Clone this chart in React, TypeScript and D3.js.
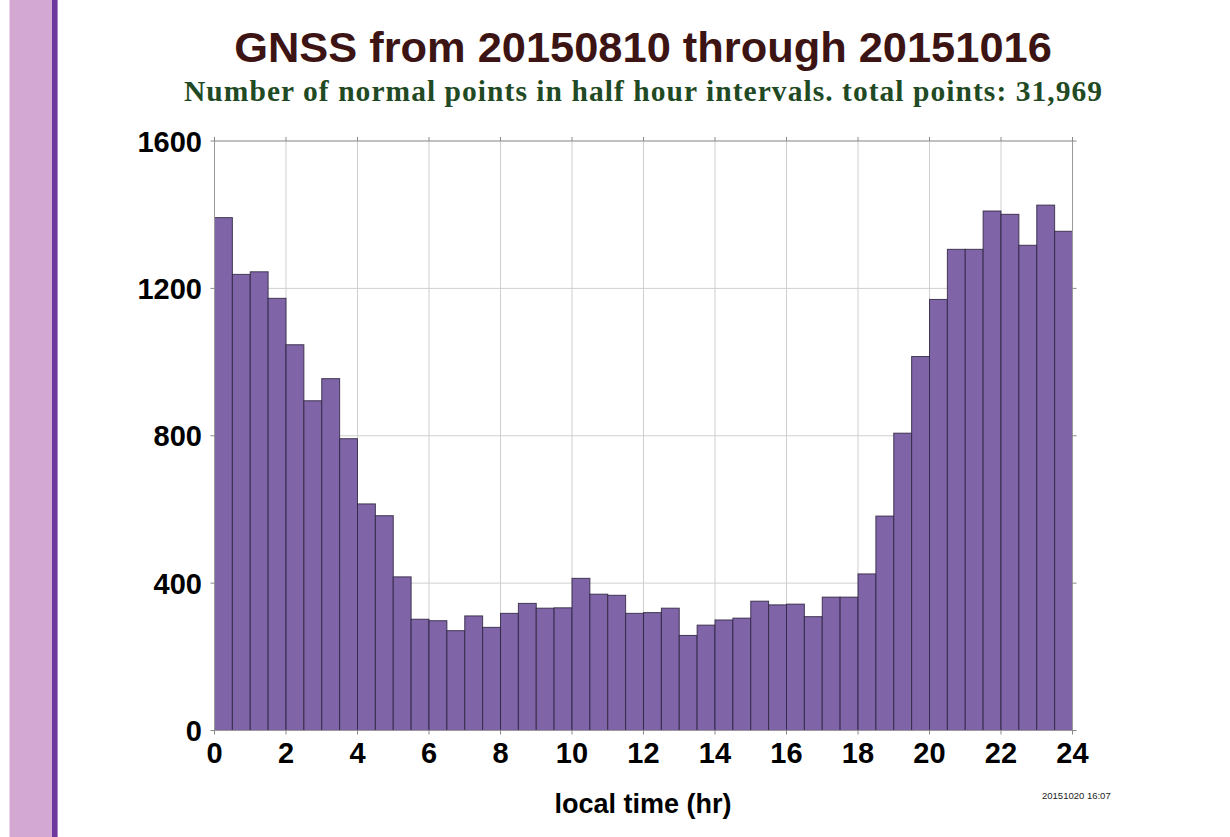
import React from "react";
import * as d3 from "d3";

const binStarts: number[] = d3.range(0, 24, 0.5);
const counts: number[] = [
  1392, 1238, 1245, 1173, 1047, 895, 955, 792, 615, 583,
  417, 302, 298, 271, 311, 280, 318, 345, 332, 333,
  413, 370, 367, 318, 320, 332, 258, 286, 300, 305,
  351, 341, 343, 309, 362, 362, 425, 582, 807, 1015,
  1170, 1306, 1306, 1410, 1401, 1317, 1426, 1355,
];
const xTicks: number[] = [0, 2, 4, 6, 8, 10, 12, 14, 16, 18, 20, 22, 24];
const yTicks: number[] = [0, 400, 800, 1200, 1600];
const titleText = "GNSS from 20150810 through 20151016";
const subtitleText = "Number of normal points in half hour intervals. total points: 31,969";
const xLabel = "local time (hr)";
const stamp = "20151020 16:07";

const W = 1230;
const H = 837;
const left = 214.5;
const right = 1072.5;
const top = 141;
const bottom = 730.5;

export default function App() {
  const x = d3.scaleLinear().domain([0, 24]).range([left, right]);
  const y = d3.scaleLinear().domain([0, 1600]).range([bottom, top]);
  const sans = "'Liberation Sans', Arial, Helvetica, sans-serif";
  const serif = "'Liberation Serif', 'Times New Roman', serif";
  return (
    <svg
      width={W}
      height={H}
      style={{ position: "absolute", left: 0, top: 0, background: "#fff" }}
    >
      <rect x={0} y={0} width={W} height={H} fill="#fff" />
      <rect x={9.5} y={0} width={42.5} height={H} fill="#d3a8d2" />
      <rect x={52} y={0} width={5} height={H} fill="#6b3a9c" />
      <rect x={57} y={0} width={1} height={H} fill="#a886c8" />

      <text
        x={643}
        y={62}
        textAnchor="middle"
        fontFamily={sans}
        fontWeight="bold"
        fontSize={43.4}
        fill="#3c1414"
      >
        {titleText}
      </text>
      <text
        x={643}
        y={101}
        textAnchor="middle"
        fontFamily={serif}
        fontWeight="bold"
        fontSize={29.5}
        textLength={918}
        lengthAdjust="spacing"
        fill="#1f4a23"
      >
        {subtitleText}
      </text>

      {/* grid */}
      {xTicks.map((t) => (
        <line
          key={"gx" + t}
          x1={x(t)}
          x2={x(t)}
          y1={top}
          y2={bottom}
          stroke="#cfcfcf"
          strokeWidth={1}
        />
      ))}
      {yTicks.map((t) => (
        <line
          key={"gy" + t}
          x1={left}
          x2={right}
          y1={y(t)}
          y2={y(t)}
          stroke="#cfcfcf"
          strokeWidth={1}
        />
      ))}

      {/* bars */}
      {counts.map((c, i) => (
        <rect
          key={"b" + i}
          x={x(binStarts[i])}
          y={y(c)}
          width={x(binStarts[i] + 0.5) - x(binStarts[i])}
          height={bottom - y(c)}
          fill="#7f64a7"
          stroke="#2e2440"
          strokeOpacity={0.85}
          strokeWidth={1}
        />
      ))}

      {/* frame */}
      <line x1={left} x2={right} y1={top} y2={top} stroke="#999" />
      <line x1={left} x2={right} y1={bottom} y2={bottom} stroke="#999" />
      <line x1={left} x2={left} y1={top} y2={bottom} stroke="#999" />
      <line x1={right} x2={right} y1={top} y2={bottom} stroke="#999" />

      {/* ticks */}
      {yTicks.map((t) => (
        <g key={"ty" + t}>
          <line x1={left - 4} x2={left} y1={y(t)} y2={y(t)} stroke="#888" />
          <line x1={right} x2={right + 4} y1={y(t)} y2={y(t)} stroke="#888" />
          <text
            x={202}
            y={y(t) + 10.5}
            textAnchor="end"
            fontFamily={sans}
            fontWeight="bold"
            fontSize={29}
            fill="#000"
          >
            {t}
          </text>
        </g>
      ))}
      {xTicks.map((t) => (
        <g key={"tx" + t}>
          <line x1={x(t)} x2={x(t)} y1={top - 4} y2={top} stroke="#888" />
          <line x1={x(t)} x2={x(t)} y1={bottom} y2={bottom + 4} stroke="#888" />
          <text
            x={x(t)}
            y={763}
            textAnchor="middle"
            fontFamily={sans}
            fontWeight="bold"
            fontSize={29}
            fill="#000"
          >
            {t}
          </text>
        </g>
      ))}

      <text
        x={643}
        y={813}
        textAnchor="middle"
        fontFamily={sans}
        fontWeight="bold"
        fontSize={27}
        fill="#000"
      >
        {xLabel}
      </text>
      <text
        x={1042}
        y={799}
        fontFamily={sans}
        fontSize={9.5}
        fill="#222"
      >
        {stamp}
      </text>
    </svg>
  );
}
